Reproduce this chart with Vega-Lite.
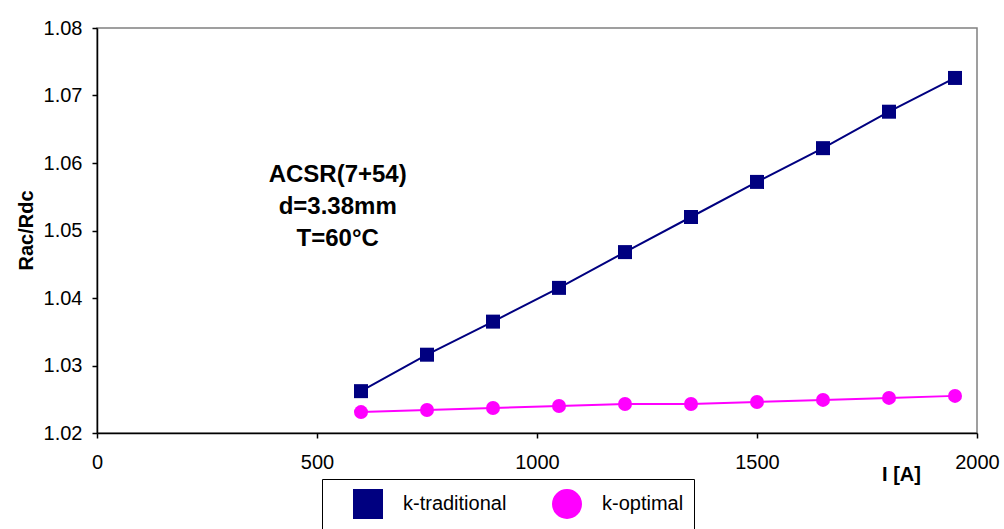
{
  "$schema": "https://vega.github.io/schema/vega-lite/v6.json",
  "width": 880,
  "height": 405,
  "autosize": {"type": "none"},
  "padding": {"left": 97, "top": 28, "right": 27, "bottom": 96},
  "background": "white",
  "config": {
    "font": "Liberation Sans",
    "view": {"stroke": "#808080", "strokeWidth": 1.5},
    "axis": {
      "domainColor": "black",
      "domainWidth": 1.5,
      "tickColor": "black",
      "tickWidth": 1.5,
      "tickSize": 5,
      "labelColor": "black",
      "labelFont": "Liberation Sans",
      "labelFontSize": 20,
      "grid": false,
      "titleColor": "black",
      "titleFont": "Liberation Sans",
      "titleFontSize": 20,
      "titleFontWeight": "bold"
    },
    "legend": {
      "orient": "none",
      "legendX": 225,
      "legendY": 451,
      "direction": "horizontal",
      "strokeColor": "black",
      "fillColor": "white",
      "padding": 10,
      "symbolSize": 784,
      "symbolOffset": 21,
      "symbolStrokeWidth": 2,
      "labelOffset": 20,
      "columnPadding": 24,
      "labelFont": "Liberation Sans",
      "labelFontSize": 20,
      "labelColor": "black",
      "labelLimit": 300
    }
  },
  "datasets": {
    "series": [
      {"I": 600, "R": 1.0262, "series": "k-traditional"},
      {"I": 750, "R": 1.0316, "series": "k-traditional"},
      {"I": 900, "R": 1.0365, "series": "k-traditional"},
      {"I": 1050, "R": 1.0415, "series": "k-traditional"},
      {"I": 1200, "R": 1.0468, "series": "k-traditional"},
      {"I": 1350, "R": 1.0520, "series": "k-traditional"},
      {"I": 1500, "R": 1.0572, "series": "k-traditional"},
      {"I": 1650, "R": 1.0622, "series": "k-traditional"},
      {"I": 1800, "R": 1.0676, "series": "k-traditional"},
      {"I": 1950, "R": 1.0726, "series": "k-traditional"},
      {"I": 600, "R": 1.0231, "series": "k-optimal"},
      {"I": 750, "R": 1.0234, "series": "k-optimal"},
      {"I": 900, "R": 1.0237, "series": "k-optimal"},
      {"I": 1050, "R": 1.0240, "series": "k-optimal"},
      {"I": 1200, "R": 1.0243, "series": "k-optimal"},
      {"I": 1350, "R": 1.0243, "series": "k-optimal"},
      {"I": 1500, "R": 1.0246, "series": "k-optimal"},
      {"I": 1650, "R": 1.0249, "series": "k-optimal"},
      {"I": 1800, "R": 1.0252, "series": "k-optimal"},
      {"I": 1950, "R": 1.0255, "series": "k-optimal"}
    ],
    "note": [
      {"I": 547, "R": 1.0582, "label": "ACSR(7+54)\nd=3.38mm\nT=60°C"}
    ]
  },
  "layer": [
    {
      "data": {"name": "series"},
      "mark": {"type": "line", "strokeWidth": 2},
      "encoding": {
        "x": {
          "field": "I", "type": "quantitative",
          "scale": {"domain": [0, 2000], "nice": false, "zero": false},
          "axis": {
            "values": [0, 500, 1000, 1500, 2000],
            "format": "d",
            "title": "I [A]",
            "labelPadding": 14,
            "labelFlush": false,
            "titleX": 804,
            "titleY": 41,
            "titleAlign": "center",
            "titleBaseline": "middle"
          }
        },
        "y": {
          "field": "R", "type": "quantitative",
          "scale": {"domain": [1.02, 1.08], "nice": false, "zero": false},
          "axis": {
            "values": [1.02, 1.03, 1.04, 1.05, 1.06, 1.07, 1.08],
            "format": ".2f",
            "title": "Rac/Rdc",
            "labelPadding": 10,
            "labelFlush": false,
            "titleX": -71,
            "titleY": 202,
            "titleAngle": -90,
            "titleAlign": "center",
            "titleBaseline": "middle"
          }
        },
        "color": {
          "field": "series", "type": "nominal",
          "scale": {"domain": ["k-traditional", "k-optimal"], "range": ["#000080", "#FF00FF"]},
          "legend": {"title": null}
        }
      }
    },
    {
      "data": {"name": "series"},
      "mark": {"type": "point", "filled": true, "size": 196, "opacity": 1},
      "encoding": {
        "x": {"field": "I", "type": "quantitative"},
        "y": {"field": "R", "type": "quantitative"},
        "color": {"field": "series", "type": "nominal", "legend": {"title": null}},
        "shape": {
          "field": "series", "type": "nominal",
          "scale": {"domain": ["k-traditional", "k-optimal"], "range": ["square", "circle"]},
          "legend": null
        }
      }
    },
    {
      "data": {"name": "note"},
      "mark": {
        "type": "text",
        "lineBreak": "\n",
        "fontSize": 24,
        "fontWeight": "bold",
        "font": "Liberation Sans",
        "lineHeight": 32,
        "align": "center",
        "baseline": "middle",
        "color": "black"
      },
      "encoding": {
        "x": {"field": "I", "type": "quantitative"},
        "y": {"field": "R", "type": "quantitative"},
        "text": {"field": "label"}
      }
    }
  ]
}
